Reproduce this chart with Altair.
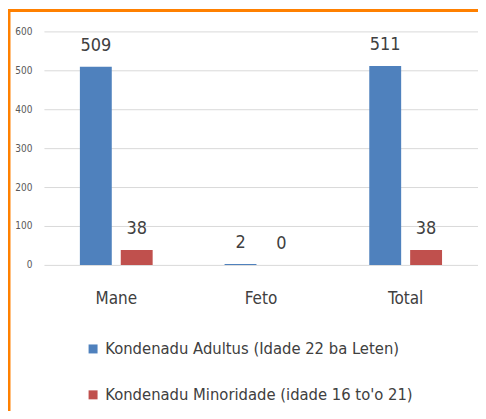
import altair as alt
import pandas as pd

categories = ["Mane", "Feto", "Total"]
series_names = ["Kondenadu Adultus (Idade 22 ba Leten)", "Kondenadu Minoridade (idade 16 to'o 21)"]
adultus = [509, 2, 511]
minoridade = [38, 0, 38]
colors = ["#4F81BD", "#C0504D"]
y_ticks = [0, 100, 200, 300, 400, 500, 600]

rows = []
for i, c in enumerate(categories):
    rows.append({"cat": c, "series": series_names[0], "value": adultus[i]})
    rows.append({"cat": c, "series": series_names[1], "value": minoridade[i]})
df = pd.DataFrame(rows)

FONT = "'DejaVu Sans Condensed', 'Liberation Sans', sans-serif"

x = alt.X("cat:N", sort=categories, title=None,
          scale=alt.Scale(paddingInner=0.497, paddingOuter=0.2485),
          axis=alt.Axis(labelAngle=0, ticks=False, domain=False, labelPadding=26,
                        labelFontSize=17, labelColor="#404040", labelFont=FONT))
xo = alt.XOffset("series:N", sort=series_names, scale=alt.Scale(paddingInner=0.22, paddingOuter=0))
y = alt.Y("value:Q", title=None,
          scale=alt.Scale(domain=[0, 600], nice=False),
          axis=alt.Axis(values=y_ticks, tickCount=7, ticks=False, domain=False, labelPadding=12,
                        labelFontSize=10, labelColor="#595959", labelFont=FONT,
                        labelOverlap=False, labelFlush=False,
                        gridColor="#D9D9D9", gridWidth=1))

bars = alt.Chart(df).mark_bar().encode(
    x=x, xOffset=xo, y=y,
    color=alt.Color("series:N", sort=series_names,
                    scale=alt.Scale(domain=series_names, range=colors),
                    legend=alt.Legend(title=None, orient="none", legendX=41, legendY=310,
                                      direction="vertical", symbolType="square", symbolSize=81,
                                      symbolStrokeWidth=0, rowPadding=29, labelOffset=4,
                                      labelFontSize=16.5, labelColor="#404040", labelFont=FONT,
                                      labelLimit=400)),
)

labels = alt.Chart(df).mark_text(baseline="bottom", dy=-12, fontSize=18, color="#404040", font=FONT).encode(
    x=x, xOffset=xo, y=y, text="value:Q",
)

border_v = alt.Chart(alt.Data(values=[{}])).mark_rule(color="#FF8000", strokeWidth=3).encode(
    x=alt.value(-35), y=alt.value(-22), y2=alt.value(400))
border_h = alt.Chart(alt.Data(values=[{}])).mark_rule(color="#FF8000", strokeWidth=3).encode(
    x=alt.value(-36), x2=alt.value(450), y=alt.value(-21))

chart = alt.layer(bars, labels, border_v, border_h).properties(
    width=435, height=234,
    autosize=alt.AutoSizeParams(type="none"),
    padding={"left": 36, "top": 23, "right": 0, "bottom": 146},
).configure_view(stroke=None)

chart.save("out.html", embed_options={"renderer": "svg", "actions": False})
